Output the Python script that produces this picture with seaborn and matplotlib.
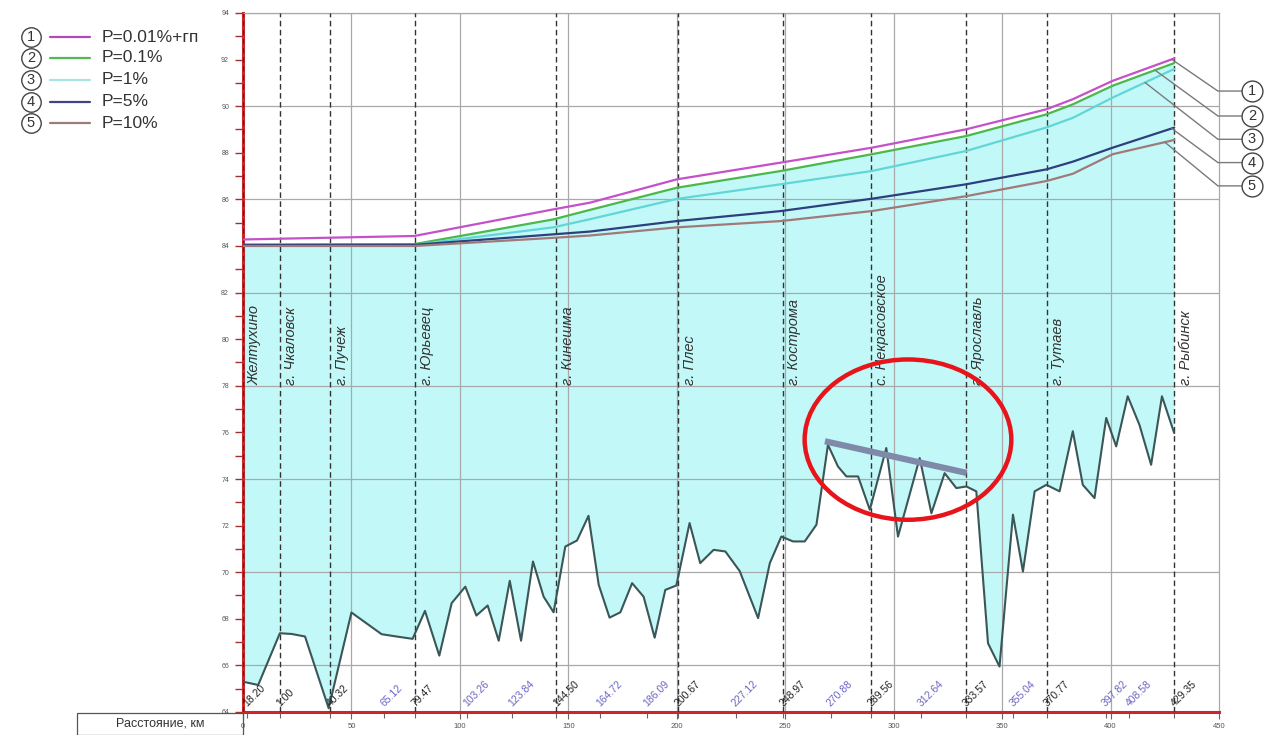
import numpy as np
import pandas as pd
import matplotlib
matplotlib.use("Agg")
import matplotlib.pyplot as plt
import seaborn as sns
from matplotlib.patches import Ellipse, Rectangle
from matplotlib.lines import Line2D
from matplotlib.ticker import MultipleLocator, FixedLocator

# ---------------- data ----------------
# river bed profile: distance (km) and elevation (m)
bed_km = [0, 7, 17, 22.4, 28.6, 39.5, 50, 63.9, 70.8, 78.2, 83.9, 90.5, 96.2, 102.5,
          107.6, 112.8, 117.9, 123, 128.2, 133.7, 138.6, 143.2, 148.6, 154, 159.3,
          164, 169, 174, 179.4, 184.7, 189.8, 194.7, 199.8, 205.9, 210.8, 217, 222.4,
          229, 237.5, 242.9, 248.2, 253.6, 259, 264.4, 269.7, 274.3, 278.2, 283.6,
          289, 296.6, 302, 312, 317.4, 323.5, 328.9, 333.5, 338.1, 343.5, 348.8,
          355, 359.6, 365, 370.4, 376.5, 382.6, 387.2, 392.6, 398, 402.6, 407.9,
          413.3, 418.7, 423.7, 429.35]
bed_z = [65.30, 65.16, 67.38, 67.35, 67.24, 64.16, 68.27, 67.34, 67.24, 67.14, 68.34,
         66.42, 68.67, 69.38, 68.14, 68.57, 67.06, 69.63, 67.06, 70.46, 68.95, 68.28,
         71.10, 71.36, 72.42, 69.46, 68.05, 68.28, 69.53, 68.95, 67.19, 69.24, 69.43,
         72.11, 70.39, 70.96, 70.89, 70.05, 68.03, 70.39, 71.53, 71.32, 71.32, 72.04,
         75.47, 74.54, 74.11, 74.11, 72.68, 75.33, 71.53, 74.90, 72.53, 74.25, 73.61,
         73.68, 73.47, 66.95, 65.95, 72.47, 70.03, 73.47, 73.75, 73.47, 76.05, 73.75,
         73.18, 76.62, 75.40, 77.55, 76.33, 74.61, 77.55, 75.97]

# water surface profiles for the design probabilities
wl_km = [0, 79, 143, 160, 200, 248, 290, 333.5, 370.5, 382.6, 401, 429.35]
wl_p001 = [84.28, 84.43, 85.57, 85.86, 86.86, 87.58, 88.22, 89.01, 89.87, 90.30, 91.09, 92.05]
wl_p01 = [84.05, 84.08, 85.14, 85.55, 86.50, 87.22, 87.94, 88.72, 89.65, 90.08, 90.88, 91.85]
wl_p1 = [84.03, 84.05, 84.80, 85.15, 86.02, 86.65, 87.22, 88.08, 89.09, 89.50, 90.37, 91.60]
wl_p5 = [84.05, 84.05, 84.50, 84.62, 85.07, 85.50, 86.03, 86.65, 87.29, 87.62, 88.22, 89.08]
wl_p10 = [84.00, 84.00, 84.35, 84.45, 84.80, 85.07, 85.50, 86.14, 86.79, 87.10, 87.94, 88.55]

series_labels = ["P=0.01%+гп", "P=0.1%", "P=1%", "P=5%", "P=10%"]
series_colors = ["#c451c9", "#4cb84c", "#62d6d6", "#2e3f7e", "#a07a78"]
legend_colors = ["#b04ab8", "#55b855", "#a8e4e4", "#3c4684", "#9c7c74"]

# settlements along the river
stations = ["Желтухино", "г. Чкаловск", "г. Пучеж", "г. Юрьевец", "г. Кинешма", "г. Плес",
            "г. Кострома", "с. Некрасовское", "г. Ярославль", "г. Тутаев", "г. Рыбинск"]
station_km = [0, 17, 40.32, 79.47, 144.5, 200.67, 248.97, 289.56, 333.57, 370.77, 429.35]

# chainage marks at the bottom
chain_km = [2, 17, 40.32, 65.12, 79.47, 103.26, 123.84, 144.5, 164.72, 186.09, 200.67,
            227.12, 248.97, 270.88, 289.56, 312.64, 333.57, 355.04, 370.77, 397.82,
            408.58, 429.35]
chain_text = ["18.20", "1.00", "40.32", "65.12", "79.47", "103.26", "123.84", "144.50",
              "164.72", "186.09", "200.67", "227.12", "248.97", "270.88", "289.56",
              "312.64", "333.57", "355.04", "370.77", "397.82", "408.58", "429.35"]
chain_is_station = [1, 1, 1, 0, 1, 0, 0, 1, 0, 0, 1, 0, 1, 0, 1, 0, 1, 0, 1, 0, 0, 1]

# ---------------- figure ----------------
sns.set_style("white")
plt.rcParams["font.family"] = ["Liberation Sans", "DejaVu Sans"]

W, H = 1281, 735
fig = plt.figure(figsize=(W / 100, H / 100), dpi=100)
ax_l, ax_r, ax_t, ax_b = 243, 1219, 13, 712
ax = fig.add_axes([ax_l / W, 1 - ax_b / H, (ax_r - ax_l) / W, (ax_b - ax_t) / H])
ax.set_xlim(0, 450)
ax.set_ylim(64, 94)

# water body fill between the bed and the surface
grid_km = np.union1d(np.array(bed_km), np.array(wl_km))
surf = np.interp(grid_km, wl_km, wl_p01)
bed_i = np.interp(grid_km, bed_km, bed_z)
ax.fill_between(grid_km, bed_i, surf, color="#c3f8f8", lw=0, zorder=1)

# grid
for yv in range(66, 95, 4):
    ax.axhline(yv, color="#a9a9a9", lw=0.9, zorder=2)
for xv in range(50, 450, 50):
    ax.axvline(xv, color="#a9a9a9", lw=0.9, zorder=2)

# settlement lines and names
for name, km in zip(stations, station_km):
    ax.axvline(km, color="#333333", lw=1.0, ls=(0, (4, 2.5)), zorder=3)
    ax.text(km + 2.0, 78.05, name, rotation=90, rotation_mode="anchor",
            ha="left", va="top", fontsize=10.5, style="italic", color="#333333", zorder=4)

# water surface profiles
wl_all = [wl_p001, wl_p01, wl_p1, wl_p5, wl_p10]
for vals, col in zip(wl_all, series_colors):
    sns.lineplot(x=wl_km, y=vals, ax=ax, color=col, lw=1.6, estimator=None,
                 sort=False, zorder=5)

# bed profile
sns.lineplot(x=bed_km, y=bed_z, ax=ax, color="#3b5656", lw=1.5, estimator=None,
             sort=False, zorder=6)

# chainage labels
for km, txt, st in zip(chain_km, chain_text, chain_is_station):
    ax.text(km + 0.8, 64.15, txt, rotation=45, rotation_mode="anchor", ha="left",
            va="bottom", fontsize=7.5, color="#222222" if st else "#6a66c4", zorder=7)

# axes styling
for side in ("left", "bottom"):
    ax.spines[side].set_color("#c8282c")
    ax.spines[side].set_linewidth(2.2)
for side in ("top", "right"):
    ax.spines[side].set_color("#a9a9a9")
    ax.spines[side].set_linewidth(0.9)
ax.yaxis.set_major_locator(MultipleLocator(2))
ax.yaxis.set_minor_locator(MultipleLocator(1))
ax.xaxis.set_major_locator(MultipleLocator(50))
ax.xaxis.set_minor_locator(FixedLocator(chain_km))
ax.tick_params(axis="y", which="both", direction="out", length=6, width=1,
               color="#a03030", labelsize=5, labelcolor="#555555", pad=4, left=True)
ax.tick_params(axis="x", which="major", direction="out", length=5, width=0.8,
               color="#666666", labelsize=5.5, labelcolor="#555555", pad=3, bottom=True)
ax.tick_params(axis="x", which="minor", direction="out", length=4, width=0.8,
               color="#666666", bottom=True)
ax.set_xlabel("")
ax.set_ylabel("")

# callout leaders on the right
call_start_km = [428.2, 420.5, 415.9, 428.2, 425.0]
call_level = [90.65, 89.58, 88.58, 87.58, 86.58]
for i, (vals, skm, lev) in enumerate(zip(wl_all, call_start_km, call_level)):
    y0 = np.interp(skm, wl_km, vals)
    ax.plot([skm, 449.5, 460.5], [y0, lev, lev], color="#7a7a7a", lw=1.0,
            clip_on=False, zorder=8)
    ax.plot([465.2], [lev], "o", ms=15, mfc="white", mec="#444444", mew=1.0,
            clip_on=False, zorder=9)
    ax.text(465.2, lev, str(i + 1), ha="center", va="center", fontsize=10.5,
            color="#333333", zorder=10, clip_on=False)

# highlighted stretch of the bed
ax.add_patch(Ellipse((306.6, 75.69), 95.3, 6.88, fill=False, ec="#e8141c", lw=3.2,
                     zorder=11))
ax.plot([268.3, 333.7], [75.62, 74.26], color="#7f8aa8", lw=4.5,
        solid_capstyle="butt", zorder=12)

# legend at the top left
leg_y = [37, 58, 80, 102, 123]
for i, (lab, col, yp) in enumerate(zip(series_labels, legend_colors, leg_y)):
    fy = 1 - yp / H
    fig.add_artist(Line2D([31 / W], [fy], marker="o", ms=14, mfc="white",
                          mec="#444444", mew=1.0, transform=fig.transFigure))
    fig.text(31 / W, fy, str(i + 1), ha="center", va="center", fontsize=10.5,
             color="#333333")
    fig.add_artist(Line2D([50 / W, 90 / W], [fy, fy], color=col, lw=1.6,
                          transform=fig.transFigure))
    fig.text(102 / W, fy, lab, ha="left", va="center", fontsize=12.5, color="#333333")

# distance caption box
fig.add_artist(Rectangle((77 / W, 0), (ax_l - 77) / W, (H - 713) / H, fill=False,
                         ec="#555555", lw=0.9, transform=fig.transFigure))
fig.text((77 + ax_l) / 2 / W, 1 - 724 / H, "Расстояние, км", ha="center",
         va="center", fontsize=9, color="#333333")

fig.savefig("out.png", dpi=100)
